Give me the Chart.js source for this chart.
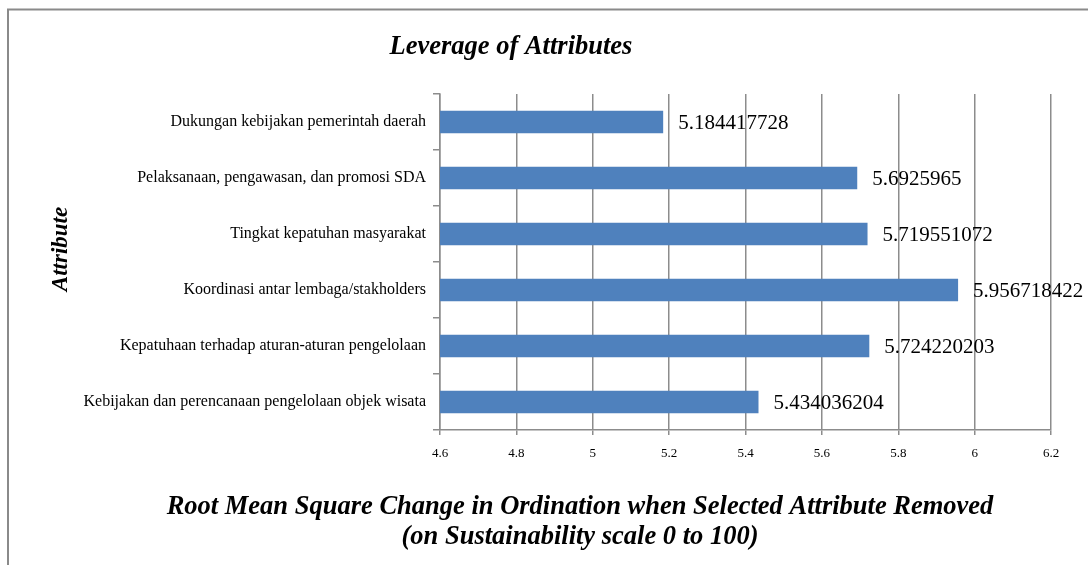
<!DOCTYPE html>
<html>
<head>
<meta charset="utf-8">
<script src="https://cdn.jsdelivr.net/npm/chart.js@4"></script>
<style>
  html, body { margin: 0; padding: 0; background: #fff; }
  #wrap { width: 1088px; height: 565px; position: relative; }
</style>
</head>
<body>
<div id="wrap"><canvas id="leverageChart" width="1088" height="565"></canvas></div>
<script>
// attributes (top to bottom, as in the picture)
const attributes = [
  "Dukungan kebijakan pemerintah daerah",
  "Pelaksanaan, pengawasan, dan promosi SDA",
  "Tingkat kepatuhan masyarakat",
  "Koordinasi antar lembaga/stakholders",
  "Kepatuhaan terhadap aturan-aturan pengelolaan",
  "Kebijakan dan perencanaan pengelolaan objek wisata"
];
const rmsValues = [5.184417728, 5.6925965, 5.719551072, 5.956718422, 5.724220203, 5.434036204];
const valueLabels = ["5.184417728", "5.6925965", "5.719551072", "5.956718422", "5.724220203", "5.434036204"];
const xTicks = [4.6, 4.8, 5, 5.2, 5.4, 5.6, 5.8, 6, 6.2];

const chartTitle = "Leverage of Attributes";
const yTitle = "Attribute";
const xTitle = ["Root Mean Square Change in Ordination when Selected Attribute Removed",
                "(on Sustainability scale 0 to 100)"];

const serif = "'Liberation Serif', 'Times New Roman', serif";
const gridGrey = "#8c8c8c";

// frame, titles and value labels
const decor = {
  id: "decor",
  beforeDraw(chart) {
    const c = chart.ctx;
    c.save();
    c.fillStyle = "#fff";
    c.fillRect(0, 0, chart.width, chart.height);
    c.strokeStyle = "#8a8a8a";
    c.lineWidth = 2;
    c.strokeRect(8, 9.5, 1200, 700);
    c.restore();
  },
  afterDatasetsDraw(chart) {
    const c = chart.ctx;
    const meta = chart.getDatasetMeta(0);
    c.save();
    c.fillStyle = "#000";
    c.font = "21px " + serif;
    c.textAlign = "left";
    c.textBaseline = "middle";
    meta.data.forEach((bar, i) => {
      c.fillText(valueLabels[i], bar.x + 15, bar.y + 1);
    });

    c.font = "italic bold 26.5px " + serif;
    c.textAlign = "center";
    c.fillText(chartTitle, 511, 47);
    xTitle.forEach((line, i) => c.fillText(line, 580, 507 + i * 30));

    c.font = "italic bold 23px " + serif;
    c.translate(61, 249);
    c.rotate(-Math.PI / 2);
    c.fillText(yTitle, 0, 0);
    c.restore();
  }
};

new Chart(document.getElementById("leverageChart"), {
  type: "bar",
  data: {
    labels: attributes,
    datasets: [{
      data: rmsValues,
      backgroundColor: "#4f81bd",
      borderWidth: 0,
      barPercentage: 0.4,
      categoryPercentage: 1
    }]
  },
  options: {
    indexAxis: "y",
    responsive: false,
    animation: false,
    layout: { padding: { left: 0, right: 37, top: 94, bottom: 0 } },
    plugins: {
      legend: { display: false },
      tooltip: { enabled: false }
    },
    scales: {
      x: {
        min: 4.6,
        max: 6.2,
        afterBuildTicks(scale) { scale.ticks = xTicks.map(v => ({ value: v })); },
        afterFit(scale) { scale.height = 135; },
        grid: { color: gridGrey, lineWidth: 1.5, tickLength: 5 },
        border: { color: gridGrey, width: 1.5 },
        ticks: {
          color: "#000",
          font: { family: serif, size: 13 },
          padding: 11,
          callback: v => String(Number(v.toFixed(1)))
        }
      },
      y: {
        afterFit(scale) { scale.width = 440; },
        grid: { drawOnChartArea: false, color: gridGrey, lineWidth: 1.5, tickLength: 7 },
        border: { color: gridGrey, width: 1.5 },
        ticks: {
          color: "#000",
          font: { family: serif, size: 16 },
          padding: 7,
          autoSkip: false
        }
      }
    }
  },
  plugins: [decor]
});
</script>
</body>
</html>
